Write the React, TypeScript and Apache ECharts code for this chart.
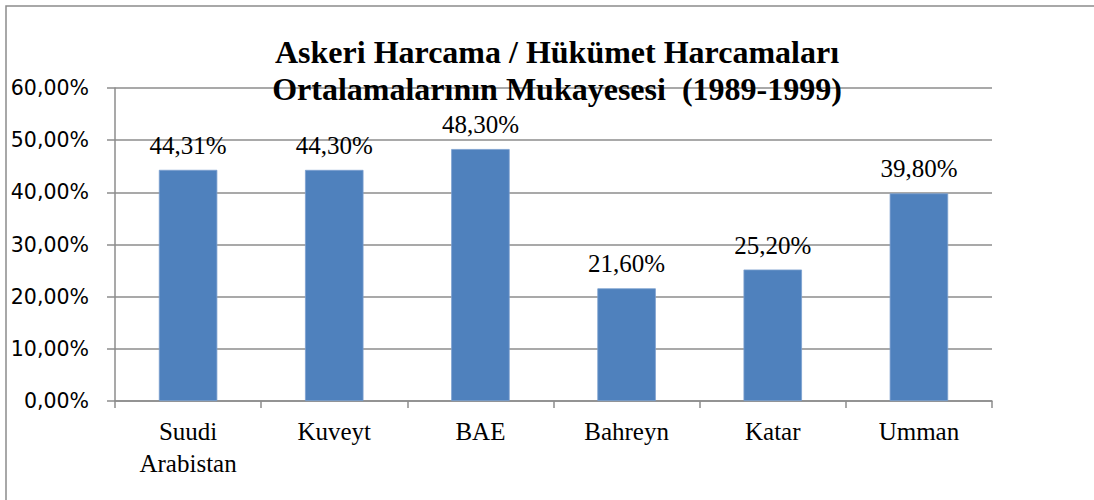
import React, { useEffect, useRef } from "react";
import * as echarts from "echarts";

const categories = ["Suudi\nArabistan", "Kuveyt", "BAE", "Bahreyn", "Katar", "Umman"];
const values = [44.31, 44.3, 48.3, 21.6, 25.2, 39.8];
const titleText = "Askeri Harcama / Hükümet Harcamaları\nOrtalamalarının Mukayesesi  (1989-1999)";

const fmt = (v: number) => v.toFixed(2).replace(".", ",") + "%";

export default function App() {
  const ref = useRef<HTMLDivElement>(null);
  useEffect(() => {
    document.body.style.margin = "0";
    const chart = echarts.init(ref.current!, null, { renderer: "svg" });
    chart.setOption({
      animation: false,
      backgroundColor: "#ffffff",
      title: {
        text: titleText,
        left: 552,
        textAlign: "center",
        top: 28,
        z: 10,
        textStyle: {
          fontFamily: "Liberation Serif",
          fontWeight: "bold",
          fontSize: 32,
          lineHeight: 37,
          color: "#000",
        },
      },
      graphic: [
        {
          type: "rect",
          shape: { x: 6, y: 6, width: 1200, height: 600 },
          style: { fill: "none", stroke: "#8c8c8c", lineWidth: 1.5 },
          silent: true,
        },
      ],
      grid: { left: 115, right: 102, top: 88, bottom: 99, containLabel: false },
      xAxis: {
        type: "category",
        data: categories,
        axisLine: { show: true, lineStyle: { color: "#8c8c8c", width: 1.5 } },
        axisTick: { show: true, length: 7, lineStyle: { color: "#8c8c8c", width: 1.5 } },
        axisLabel: {
          fontFamily: "Liberation Serif",
          fontSize: 25,
          lineHeight: 32,
          color: "#000",
          margin: 14,
          interval: 0,
        },
      },
      yAxis: {
        type: "value",
        min: 0,
        max: 60,
        interval: 10,
        axisLine: { show: true, lineStyle: { color: "#8c8c8c", width: 1.5 } },
        axisTick: { show: true, length: 8, lineStyle: { color: "#8c8c8c", width: 1.5 } },
        splitLine: { show: true, lineStyle: { color: "#8c8c8c", width: 1.5 } },
        axisLabel: {
          fontFamily: "DejaVu Sans",
          fontSize: 20.5,
          color: "#000",
          margin: 26,
          formatter: (v: number) => fmt(v),
        },
      },
      series: [
        {
          type: "bar",
          data: values,
          barWidth: "40%",
          itemStyle: { color: "#4f81bd", borderColor: "#7ba0cf", borderWidth: 0.8 },
          label: {
            show: true,
            position: "top",
            distance: 12,
            fontFamily: "Liberation Serif",
            fontSize: 25,
            color: "#000",
            formatter: (p: any) => fmt(p.value),
          },
        },
      ],
    });
    return () => chart.dispose();
  }, []);
  return <div ref={ref} style={{ width: 1094, height: 500 }} />;
}
